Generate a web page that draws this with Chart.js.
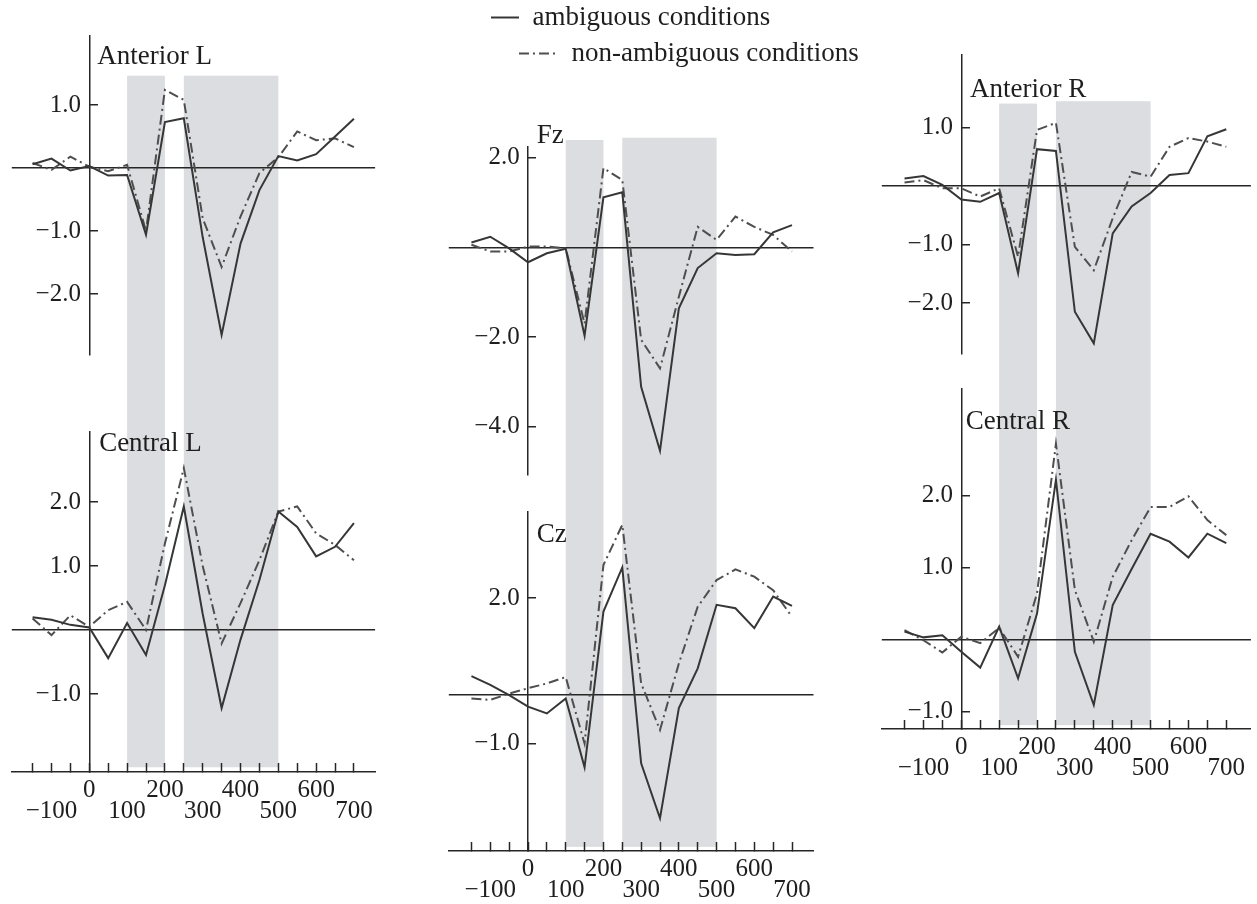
<!DOCTYPE html>
<html><head><meta charset="utf-8">
<script src="https://cdn.jsdelivr.net/npm/chart.js@4.4.1/dist/chart.umd.min.js"></script>
<style>
html,body{margin:0;padding:0;background:#fff;}
body{width:1257px;height:904px;position:relative;overflow:hidden;}
canvas.c{position:absolute;}
</style></head><body>
<script>
// ---------------- data ----------------
const times = [-150,-100,-50,0,50,100,150,200,250,300,350,400,450,500,550,600,650,700];
const xTickValues = [-150,-100,-50,0,50,100,150,200,250,300,350,400,450,500,550,600,650,700];
const seriesNames = ['ambiguous conditions', 'non-ambiguous conditions'];
const bands = [[100, 200], [250, 500]];

const antLAmb = [0.06, 0.15, -0.04, 0.03, -0.12, -0.11, -1.06, 0.73, 0.79, -1.1, -2.65, -1.2, -0.35, 0.19, 0.12, 0.22, 0.50, 0.78];
const antLNon = [0.08, -0.03, 0.18, 0.02, -0.05, 0.05, -1.00, 1.24, 1.08, -0.8, -1.57, -0.77, -0.08, 0.17, 0.58, 0.44, 0.47, 0.33];
const cenLAmb = [0.20, 0.16, 0.08, 0.04, -0.44, 0.11, -0.39, 0.70, 1.93, 0.25, -1.22, -0.15, 0.78, 1.85, 1.61, 1.15, 1.30, 1.67];
const cenLNon = [0.18, -0.08, 0.23, 0.05, 0.31, 0.44, 0.00, 1.35, 2.53, 1.00, -0.21, 0.42, 1.09, 1.85, 1.93, 1.51, 1.33, 1.09];
const fzAmb = [0.11, 0.24, -0.02, -0.33, -0.13, -0.03, -1.97, 1.12, 1.23, -3.11, -4.54, -1.36, -0.46, -0.13, -0.17, -0.15, 0.34, 0.50];
const fzNon = [0.06, -0.09, -0.09, 0.02, 0.02, -0.02, -1.70, 1.77, 1.51, -2.06, -2.70, -1.10, 0.46, 0.17, 0.69, 0.46, 0.28, -0.09];
const czAmb = [0.39, 0.21, 0.00, -0.24, -0.38, -0.07, -1.49, 1.72, 2.63, -1.41, -2.54, -0.27, 0.55, 1.86, 1.79, 1.38, 2.03, 1.84];
const czNon = [-0.07, -0.10, 0.03, 0.14, 0.24, 0.37, -1.00, 2.68, 3.51, 0.24, -0.72, 0.65, 1.82, 2.37, 2.59, 2.44, 2.16, 1.61];
const antRAmb = [0.13, 0.17, 0.02, -0.23, -0.27, -0.12, -1.49, 0.63, 0.60, -2.15, -2.69, -0.81, -0.35, -0.12, 0.19, 0.22, 0.85, 0.97];
const antRNon = [0.06, 0.10, -0.04, -0.04, -0.18, -0.04, -1.21, 0.96, 1.08, -1.04, -1.44, -0.55, 0.24, 0.16, 0.67, 0.82, 0.76, 0.67];
const cenRAmb = [0.11, 0.03, 0.06, -0.17, -0.39, 0.18, -0.54, 0.36, 2.22, -0.17, -0.91, 0.48, 0.98, 1.47, 1.36, 1.14, 1.47, 1.34];
const cenRNon = [0.13, -0.01, -0.18, 0.04, -0.05, 0.16, -0.24, 0.64, 2.72, 0.69, -0.03, 0.87, 1.38, 1.84, 1.84, 1.99, 1.66, 1.45];

const antLTicks = [1, -1, -2];
const cenLTicks = [2, 1, -1];
const fzTicks = [2, -2, -4];
const czTicks = [2, -1];
const antRTicks = [1, -1, -2];
const cenRTicks = [2, 1, -1];

// ---------------- style / layout ----------------
Chart.defaults.font.family = '"Liberation Serif","Times New Roman",serif';
Chart.defaults.color = '#222';
const INK = '#262626';
const AMB = '#363636';
const NON = '#4e4e4e';
const DASH = [10, 4, 2, 4];
const BAND = '#dcdde0';
const CLEAR = 'rgba(0,0,0,0)';
const LABEL_GAP = '\u2005\u200A';

function fmt(v, d) { const s = Math.abs(v).toFixed(d); return v < 0 ? '\u2212' + s : s; }
function xLabel(v) {
  if (v % 100 !== 0) return ['', ''];
  const s = fmt(v, 0);
  return (Math.abs(v / 100) % 2 === 0) ? [s, ''] : ['', s];
}
function yLabel(v) { return v === 0 ? '' : fmt(v, 1) + LABEL_GAP; }

const panels = [
  { title: 'Anterior L', amb: antLAmb, non: antLNon, yTicks: antLTicks,
    canvas: {x: 0, y: 0, w: 400, h: 393}, area: {l: 11.8, r: 375.1, t: 36, b: 355},
    xRange: [-205, 756], yRange: [-2.968, 2.095], xAxis: false, bandTop: [1.465, 1.465], titleAt: [21, 1.65] },
  { title: 'Central L', amb: cenLAmb, non: cenLNon, yTicks: cenLTicks,
    canvas: {x: 0, y: 393, w: 400, h: 467}, area: {l: 11.8, r: 375.1, t: 431.7, b: 772},
    xRange: [-205, 756], yRange: [-2.219, 3.098], xAxis: true, xh: 60, bandBottom: [-2.145, -2.145], titleAt: [26, 2.79] },
  { title: 'Fz', amb: fzAmb, non: fzNon, yTicks: fzTicks,
    canvas: {x: 420, y: 80, w: 420, h: 413}, area: {l: 448.8, r: 813.5, t: 146.7, b: 475},
    xRange: [-210, 757], yRange: [-5.08, 2.25], xAxis: false, bandTop: [2.40, 2.45], titleAt: [23, 2.34] },
  { title: 'Cz', amb: czAmb, non: czNon, yTicks: czTicks,
    canvas: {x: 420, y: 493, w: 420, h: 411}, area: {l: 448.8, r: 813.5, t: 511.7, b: 851},
    xRange: [-210, 757], yRange: [-3.216, 3.78], xAxis: true, xh: 53, bandBottom: [-3.13, -3.13], titleAt: [23, 3.16] },
  { title: 'Anterior R', amb: antRAmb, non: antRNon, yTicks: antRTicks,
    canvas: {x: 850, y: 0, w: 407, h: 371}, area: {l: 881.8, r: 1250.9, t: 55, b: 353.3},
    xRange: [-210, 765], yRange: [-2.86, 2.24], xAxis: false, bandTop: [1.41, 1.45], titleAt: [23, 1.53] },
  { title: 'Central R', amb: cenRAmb, non: cenRNon, yTicks: cenRTicks,
    canvas: {x: 850, y: 371, w: 407, h: 449}, area: {l: 881.8, r: 1250.9, t: 388.3, b: 729},
    xRange: [-210, 765], yRange: [-1.243, 3.49], xAxis: true, xh: 60, bandBottom: [-1.19, -1.19], titleAt: [12, 2.93] }
];

function addCanvas(b) {
  const cv = document.createElement('canvas');
  cv.className = 'c';
  cv.width = b.w; cv.height = b.h;
  cv.style.left = b.x + 'px'; cv.style.top = b.y + 'px';
  cv.style.width = b.w + 'px'; cv.style.height = b.h + 'px';
  document.body.appendChild(cv);
  return cv;
}

function bandPlugin(p) {
  return { id: 'bands', beforeDraw(chart) {
    const ctx = chart.ctx, xs = chart.scales.x, ys = chart.scales.y;
    ctx.save(); ctx.fillStyle = BAND;
    bands.forEach((b, i) => {
      const x0 = xs.getPixelForValue(b[0]), x1 = xs.getPixelForValue(b[1]);
      let y0, y1;
      if (p.bandTop) { y0 = ys.getPixelForValue(p.bandTop[i]); y1 = chart.height; }
      else { y0 = 0; y1 = ys.getPixelForValue(p.bandBottom[i]); }
      ctx.fillRect(x0, y0, x1 - x0, y1 - y0);
    });
    ctx.restore();
  }};
}
function titlePlugin(p) {
  return { id: 'paneltitle', afterDraw(chart) {
    const ctx = chart.ctx;
    ctx.save();
    ctx.font = '27px "Liberation Serif","Times New Roman",serif';
    ctx.fillStyle = '#1e1e1e'; ctx.textAlign = 'left'; ctx.textBaseline = 'alphabetic';
    ctx.fillText(p.title, chart.scales.x.getPixelForValue(p.titleAt[0]), chart.scales.y.getPixelForValue(p.titleAt[1]));
    ctx.restore();
  }};
}

function makePanel(p) {
  const cv = addCanvas(p.canvas);
  const XH = p.xAxis ? p.xh : 0;
  const pad = { left: p.area.l - p.canvas.x, right: p.canvas.x + p.canvas.w - p.area.r,
                top: p.area.t - p.canvas.y, bottom: p.canvas.y + p.canvas.h - p.area.b - XH };
  new Chart(cv, {
    type: 'line',
    data: { datasets: [
      { label: seriesNames[0], data: times.map((t, i) => ({x: t, y: p.amb[i]})),
        borderColor: AMB, borderWidth: 2, pointRadius: 0, tension: 0, fill: false },
      { label: seriesNames[1], data: times.map((t, i) => ({x: t, y: p.non[i]})),
        borderColor: NON, borderWidth: 2, borderDash: DASH, pointRadius: 0, tension: 0, fill: false }
    ]},
    options: {
      responsive: false, animation: false, devicePixelRatio: 1,
      layout: { padding: pad },
      plugins: { legend: {display: false}, tooltip: {enabled: false}, title: {display: false} },
      scales: {
        x: { type: 'linear', min: p.xRange[0], max: p.xRange[1], display: p.xAxis,
          afterBuildTicks: s => { s.ticks = xTickValues.map(v => ({value: v})); },
          afterFit: s => { s.height = XH; s.paddingLeft = 0; s.paddingRight = 0; },
          grid: { drawOnChartArea: false, drawTicks: true, tickLength: -9, tickWidth: 1.5, tickColor: INK },
          border: { display: true, color: INK, width: 1.5 },
          ticks: { font: {size: 25, lineHeight: 0.85}, color: '#1e1e1e', padding: 17, maxRotation: 0, minRotation: 0,
                   autoSkip: false, callback: xLabel } },
        y: { type: 'linear', position: {x: 0}, min: p.yRange[0], max: p.yRange[1],
          afterBuildTicks: s => { s.ticks = [0].concat(p.yTicks).map(v => ({value: v})); },
          afterFit: s => { s.paddingTop = 0; s.paddingBottom = 0; s.paddingLeft = 0; s.paddingRight = 0; },
          grid: { drawOnChartArea: true, drawTicks: true, tickLength: -9, tickWidth: 1.5, lineWidth: 1.5,
                  color: c => (c.tick && c.tick.value === 0) ? INK : CLEAR,
                  tickColor: c => (c.tick && c.tick.value === 0) ? CLEAR : INK },
          border: { display: true, color: INK, width: 1.5 },
          ticks: { font: {size: 25}, color: '#1e1e1e', padding: 8, autoSkip: false, callback: yLabel } }
      }
    },
    plugins: [bandPlugin(p), titlePlugin(p)]
  });
}
panels.forEach(makePanel);

// ---------------- legend ----------------
const legendBoxes = [
  { x: 491, y: 4, w: 330, h: 80, mark: 28 },
  { x: 519, y: 40, w: 360, h: 80, mark: 39 }
];
legendBoxes.forEach((b, i) => {
  const cv = addCanvas(b);
  new Chart(cv, {
    type: 'line',
    data: { datasets: [ { label: seriesNames[i], data: [],
      borderColor: i === 0 ? AMB : NON, borderWidth: 2, borderDash: i === 0 ? [] : DASH, backgroundColor: CLEAR } ] },
    options: {
      responsive: false, animation: false, devicePixelRatio: 1,
      layout: { padding: 0 },
      scales: { x: {display: false}, y: {display: false} },
      plugins: { tooltip: {enabled: false},
        legend: { display: true, position: 'top', align: 'start',
          labels: { usePointStyle: true, pointStyle: 'line', pointStyleWidth: b.mark, padding: 0,
                    font: {size: 27}, color: '#1e1e1e',
                    generateLabels: chart => chart.data.datasets.map((ds, k) => ({
                      text: ds.label, fillStyle: CLEAR, strokeStyle: ds.borderColor, lineWidth: ds.borderWidth,
                      lineDash: ds.borderDash, lineCap: 'butt', pointStyle: 'line', hidden: false,
                      datasetIndex: k, fontColor: '#1e1e1e' })) } } }
    }
  });
});
</script>
</body></html>
